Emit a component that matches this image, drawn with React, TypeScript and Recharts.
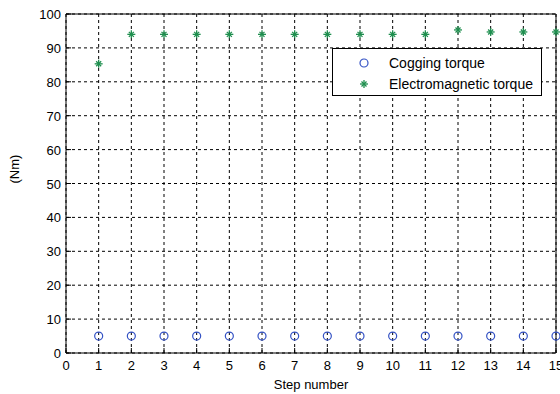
import {
  ScatterChart,
  Scatter,
  XAxis,
  YAxis,
  CartesianGrid,
  ReferenceArea,
  Legend,
} from "recharts";

const steps = [1, 2, 3, 4, 5, 6, 7, 8, 9, 10, 11, 12, 13, 14, 15];
const coggingTorque = [5, 5, 5, 5, 5, 5, 5, 5, 5, 5, 5, 5, 5, 5, 5];
const emTorque = [85.3, 94, 94, 94, 94, 94, 94, 94, 94, 94, 94, 95.3, 94.7, 94.7, 94.7];
const xTicks = [0, 1, 2, 3, 4, 5, 6, 7, 8, 9, 10, 11, 12, 13, 14, 15];
const yTicks = [0, 10, 20, 30, 40, 50, 60, 70, 80, 90, 100];

const cogData = steps.map((s, i) => ({ step: s, value: coggingTorque[i] }));
const emData = steps.map((s, i) => ({ step: s, value: emTorque[i] }));

const FONT = "'Liberation Sans', Arial, sans-serif";
const FS = 13;
const BLUE = "#3452c4";
const GREEN = "#1f8f4f";

function Circle(props: any) {
  const { cx, cy } = props;
  return <circle cx={cx} cy={cy} r={4} fill="none" stroke={BLUE} strokeWidth={1.2} />;
}

function Star(props: any) {
  const { cx, cy } = props;
  return (
    <g stroke={GREEN} strokeWidth={1.3}>
      <line x1={cx - 4} x2={cx + 4} y1={cy} y2={cy} />
      <line x1={cx} x2={cx} y1={cy - 4} y2={cy + 4} />
      <line x1={cx - 2.5} x2={cx + 2.5} y1={cy - 2.5} y2={cy + 2.5} />
      <line x1={cx - 2.5} x2={cx + 2.5} y1={cy + 2.5} y2={cy - 2.5} />
    </g>
  );
}

const BottomTick = (props: any) => {
  const { x, y, payload } = props;
  return (
    <g>
      <line x1={x} x2={x} y1={y} y2={y - 5} stroke="#000" />
      <text x={x} y={y + 17} textAnchor="middle" fontSize={FS} fontFamily={FONT} fill="#000">
        {payload.value}
      </text>
    </g>
  );
};

const TopTick = (props: any) => {
  const { x, y } = props;
  return <line x1={x} x2={x} y1={y} y2={y + 5} stroke="#000" />;
};

const LeftTick = (props: any) => {
  const { x, y, payload } = props;
  return (
    <g>
      <line x1={x} x2={x + 5} y1={y} y2={y} stroke="#000" />
      <text x={x - 5} y={y + 5} textAnchor="end" fontSize={FS} fontFamily={FONT} fill="#000">
        {payload.value}
      </text>
    </g>
  );
};

const RightTick = (props: any) => {
  const { x, y } = props;
  return <line x1={x} x2={x - 5} y1={y} y2={y} stroke="#000" />;
};

function LegendBox() {
  return (
    <div
      style={{
        border: "1px solid #000",
        background: "#fff",
        width: 208,
        height: 46,
        boxSizing: "content-box",
        fontFamily: FONT,
        fontSize: 14,
        color: "#000",
      }}
    >
      <div style={{ display: "flex", alignItems: "center", height: 21, marginTop: 3 }}>
        <svg width={56} height={14}>
          <circle cx={31} cy={7} r={4} fill="none" stroke={BLUE} strokeWidth={1.2} />
        </svg>
        <span>Cogging torque</span>
      </div>
      <div style={{ display: "flex", alignItems: "center", height: 21 }}>
        <svg width={56} height={14}>
          <Star cx={31} cy={7} />
        </svg>
        <span>Electromagnetic torque</span>
      </div>
    </div>
  );
}

export default function App() {
  return (
    <div style={{ position: "absolute", left: 0, top: 0, width: 560, height: 394, background: "#fff" }}>
      <ScatterChart width={560} height={394} margin={{ top: 14, right: 4, bottom: 0, left: 0 }}>
        <CartesianGrid stroke="#000" strokeDasharray="3 3" />
        <XAxis
          type="number"
          dataKey="step"
          domain={[0, 15]}
          ticks={xTicks}
          interval={0}
          height={41}
          tickSize={0}
          tickMargin={0}
          axisLine={false}
          tickLine={false}
          tick={<BottomTick />}
          label={{ value: "Step number", position: "insideBottom", offset: 5, fontSize: FS, fontFamily: FONT, fill: "#000" }}
        />
        <XAxis
          xAxisId="top"
          orientation="top"
          type="number"
          dataKey="step"
          domain={[0, 15]}
          ticks={xTicks}
          interval={0}
          height={0}
          tickSize={0}
          tickMargin={0}
          axisLine={false}
          tickLine={false}
          tick={<TopTick />}
        />
        <YAxis
          type="number"
          dataKey="value"
          domain={[0, 100]}
          ticks={yTicks}
          interval={0}
          width={66}
          tickSize={0}
          tickMargin={0}
          axisLine={false}
          tickLine={false}
          tick={<LeftTick />}
          label={{ value: "(Nm)", angle: -90, position: "insideLeft", offset: 14, fontSize: FS, fontFamily: FONT, fill: "#000" }}
        />
        <YAxis
          yAxisId="right"
          orientation="right"
          type="number"
          dataKey="value"
          domain={[0, 100]}
          ticks={yTicks}
          interval={0}
          width={0}
          tickSize={0}
          tickMargin={0}
          axisLine={false}
          tickLine={false}
          tick={<RightTick />}
        />
        <ReferenceArea x1={0} x2={15} y1={0} y2={100} fill="none" stroke="#000" strokeWidth={1} />
        <Scatter name="Cogging torque" data={cogData} shape={<Circle />} isAnimationActive={false} />
        <Scatter name="Electromagnetic torque" data={emData} shape={<Star />} isAnimationActive={false} />
        <Legend
          layout="vertical"
          align="center"
          verticalAlign="middle"
          content={() => <LegendBox />}
          wrapperStyle={{ position: "absolute", top: 48, left: 332, width: 210, height: 48 }}
        />
      </ScatterChart>
    </div>
  );
}
